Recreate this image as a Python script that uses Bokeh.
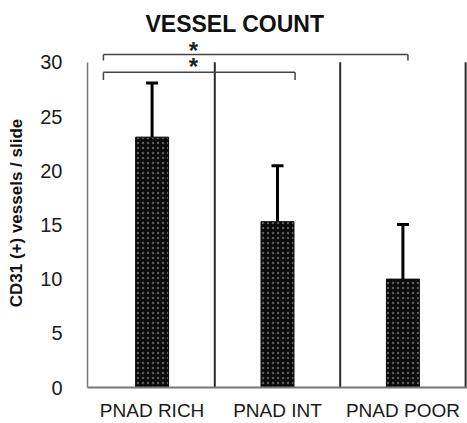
from bokeh.plotting import figure
from bokeh.models import FactorRange, Range1d, Whisker, ColumnDataSource, Title, FixedTicker, TeeHead
from bokeh.embed import file_html
from bokeh.resources import INLINE
from bokeh.core.properties import value

categories = ["PNAD RICH", "PNAD INT", "PNAD POOR"]
means = [23.1, 15.3, 10.0]
errors = [5.0, 5.15, 5.05]
y_ticks = [0, 5, 10, 15, 20, 25, 30]

# significance brackets (synthetic x positions, y value)
br_x0 = [0.112, 0.112]
br_x1 = [2.54, 1.64]
br_y = [30.73, 29.08]
br_drop = [0.55, 0.7]
star_x = [0.83, 0.83]
star_y = [31.1, 29.63]
stars = ["*", "*"]

FONT = "Liberation Sans"

p = figure(width=467, height=423,
           x_range=FactorRange(*categories, range_padding=0.015, range_padding_units="absolute"),
           y_range=Range1d(0, 32.2), output_backend="svg", toolbar_location=None,
           min_border_left=87, min_border_right=0, min_border_bottom=33, min_border_top=38)
p.title = None
p.add_layout(Title(text="VESSEL COUNT", align="left", offset=58, text_font=FONT,
                   text_font_size="23px", text_font_style="bold", text_color="#111111",
                   vertical_align="bottom", standoff=3), "above")
p.outline_line_color = None
p.xgrid.grid_line_color = None
p.ygrid.grid_line_color = None

src = ColumnDataSource(dict(x=categories, top=means,
                            upper=[m + e for m, e in zip(means, errors)], lower=means))
p.vbar(x="x", top="top", width=0.263, source=src, fill_color="#0a0a0a", line_color="#0a0a0a",
       hatch_pattern="dot", hatch_color="#5a5a5a", hatch_scale=5, hatch_weight=1)
p.add_layout(Whisker(base="x", upper="upper", lower="lower", source=src,
                     line_width=3, line_color="black",
                     upper_head=TeeHead(size=12, line_width=3, line_color="black"),
                     lower_head=None))

# category divider lines and right edge line
n = len(categories)
div_x = [i for i in range(1, n + 1)]
p.segment(x0=div_x, y0=[0] * n, x1=div_x, y1=[y_ticks[-1]] * n, line_color="#2a2a2a", line_width=2)

# significance brackets
p.segment(x0=br_x0, y0=br_y, x1=br_x1, y1=br_y, line_color="#444444", line_width=1.5)
p.segment(x0=br_x0, y0=br_y, x1=br_x0, y1=[y - d for y, d in zip(br_y, br_drop)],
          line_color="#444444", line_width=1.5)
p.segment(x0=br_x1, y0=br_y, x1=br_x1, y1=[y - d for y, d in zip(br_y, br_drop)],
          line_color="#444444", line_width=1.5)
p.text(x=star_x, y=star_y, text=stars, text_font=value(FONT), text_font_size="24px",
       text_font_style="bold", text_align="center", text_baseline="middle", text_color="#222222")

# axes
for ax in (p.xaxis, p.yaxis):
    ax.major_tick_out = 0
    ax.major_tick_in = 0
    ax.minor_tick_out = 0
    ax.minor_tick_in = 0
    ax.major_tick_line_color = None
    ax.minor_tick_line_color = None
    ax.axis_line_color = "#777777"

p.yaxis.ticker = FixedTicker(ticks=y_ticks)
p.yaxis.bounds = (0, 30)
p.yaxis.axis_line_width = 1.5
p.yaxis.major_label_standoff = 25
p.yaxis.major_label_text_font = FONT
p.yaxis.major_label_text_font_size = "20px"
p.yaxis.major_label_text_color = "#1a1a1a"
p.yaxis.axis_label = "CD31 (+) vessels / slide"
p.yaxis.axis_label_text_font = FONT
p.yaxis.axis_label_text_font_size = "17px"
p.yaxis.axis_label_text_font_style = "bold"
p.yaxis.axis_label_text_color = "#111111"
p.yaxis.axis_label_standoff = 11

p.xaxis.axis_line_width = 2
p.xaxis.axis_label_standoff = 0
p.xaxis.major_label_standoff = 12
p.xaxis.major_label_text_font = FONT
p.xaxis.major_label_text_font_size = "19px"
p.xaxis.major_label_text_color = "#1a1a1a"

open("out.html", "w").write(file_html(p, INLINE))
